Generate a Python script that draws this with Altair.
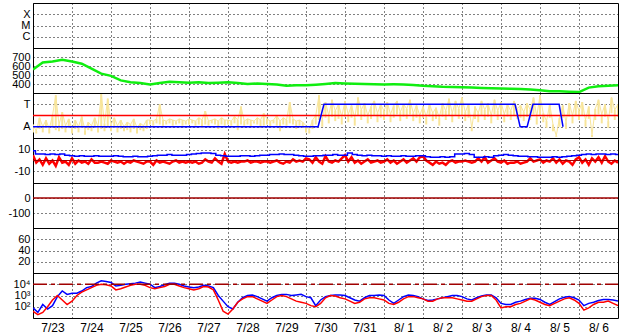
import altair as alt
import pandas as pd

# ---------------- data ----------------
day_labels = ["7/23", "7/24", "7/25", "7/26", "7/27", "7/28", "7/29", "7/30",
              "7/31", "8/ 1", "8/ 2", "8/ 3", "8/ 4", "8/ 5", "8/ 6"]
n_days = 15

status_cats = ["X", "M", "C"]

# panel 2 : green series, one value every 6 h
green_vals = [560, 640, 650, 670, 650, 625, 570, 515, 490, 440, 420, 410, 395, 410, 425, 420,
              415, 420, 410, 415, 420, 410, 400, 405, 400, 395, 380, 385, 385, 392, 400, 410,
              405, 402, 400, 398, 395, 396, 395, 390, 380, 375, 370, 368, 365, 360, 355, 352,
              350, 348, 345, 340, 330, 320, 320, 315, 310, 360, 375, 380, 385]

# panel 3 : T / A levels
ta_levels = {"A": 1, "T": 3}
ta_ref = 2
# yellow series (upper and lower reading of each 2 h interval)
yellow_hi = [
    1.2, 0.6, 1.8, 1.0, 1.6, 0.8, 2.0, 3.8, 1.2, 2.3, 1.1, 1.7,
    0.8, 1.6, 1.0, 1.9, 0.7, 1.4, 1.1, 1.8, 1.0, 3.9, 1.3, 3.5,
    1.2, 1.8, 1.1, 1.6, 1.0, 1.4, 1.2, 1.7, 0.9, 1.3, 1.1, 1.6,
    1.6, 1.5, 1.7, 3.0, 1.6, 1.5, 1.7, 1.6, 1.5, 1.7, 1.6, 1.5,
    1.7, 1.6, 1.5, 1.8, 1.6, 2.4, 1.5, 1.6, 1.7, 1.5, 1.8, 1.6,
    1.6, 1.5, 1.9, 1.6, 2.8, 1.5, 1.7, 1.6, 1.5, 1.8, 1.6, 2.2,
    1.7, 1.5, 1.6, 2.0, 1.5, 1.8, 1.6, 3.2, 1.7, 1.5, 1.6, 1.4,
    1.1, 0.7, 1.6, 2.0, 3.8, 1.6, 3.2, 2.0, 3.4, 2.4, 3.0, 1.9,
    3.3, 2.1, 2.9, 1.8, 3.6, 2.5, 3.1, 2.0, 2.8, 3.3, 2.2, 3.0,
    2.4, 3.2, 2.1, 2.9, 3.3, 2.3, 3.0, 2.6, 3.4, 2.2, 2.9, 2.0,
    2.8, 1.9, 3.0, 2.2, 2.7, 1.8, 3.1, 2.4, 3.5, 2.2, 3.3, 2.6,
    3.6, 2.3, 3.0, 0.9, 2.8, 2.2, 3.3, 2.5, 3.1, 2.0, 3.4, 2.4,
    3.2, 2.1, 3.0, 2.4, 3.3, 2.6, 2.9, 2.3, 3.1, 2.5, 3.6, 1.9,
    3.8, 2.2, 1.5, 3.0, 1.2, 0.2, 1.8, 2.9, 1.4, 3.1, 2.0, 3.3,
    2.4, 3.2, 1.6, 2.8, 0.3, 2.6, 3.4, 2.1, 3.0, 1.5, 3.6, 2.5, 3.0]
yellow_lo = [
    0.5, 0.4, 0.8, 0.5, 0.9, 0.4, 0.9, 0.7, 0.6, 0.8, 0.5, 0.9,
    0.4, 0.8, 0.5, 0.9, 0.3, 0.7, 0.6, 0.9, 0.5, 0.8, 0.6, 0.9,
    0.6, 0.9, 0.5, 0.8, 0.6, 0.7, 0.5, 0.8, 0.4, 0.7, 0.6, 0.8,
    1.2, 1.1, 1.3, 1.2, 1.1, 1.2, 1.3, 1.1, 1.2, 1.3, 1.1, 1.2,
    1.2, 1.3, 1.1, 1.2, 0.9, 1.2, 1.1, 1.3, 1.2, 0.8, 1.2, 1.1,
    1.2, 1.1, 1.3, 0.7, 1.2, 1.1, 1.2, 1.0, 1.3, 1.2, 0.9, 1.1,
    1.2, 1.0, 1.3, 1.1, 0.6, 1.2, 1.1, 1.3, 1.2, 0.8, 1.1, 0.9,
    0.5, 0.4, 0.8, 1.2, 1.6, 1.0, 1.8, 1.3, 1.9, 1.5, 1.7, 1.2,
    1.9, 1.4, 1.8, 1.1, 2.0, 1.6, 1.9, 1.3, 1.7, 2.0, 1.4, 1.8,
    1.6, 2.0, 1.4, 1.8, 2.1, 1.5, 1.9, 1.7, 2.1, 1.5, 1.8, 1.3,
    1.8, 1.2, 1.9, 1.5, 1.7, 1.1, 1.9, 1.6, 2.0, 1.4, 2.0, 1.7,
    2.0, 1.5, 1.8, 0.6, 1.7, 1.4, 2.0, 1.6, 1.9, 1.3, 2.1, 1.6,
    2.0, 1.4, 1.9, 1.6, 2.0, 1.7, 1.8, 1.5, 1.9, 1.6, 2.1, 1.2,
    2.0, 1.4, 0.9, 1.8, 0.6, 0.1, 1.0, 1.8, 0.8, 1.9, 1.3, 2.0,
    1.6, 2.0, 1.0, 1.7, 0.1, 1.6, 2.1, 1.3, 1.9, 0.9, 2.2, 1.6, 1.9]
# blue state line (day, level)
state_days = [0, 7.31, 7.46, 12.36, 12.49, 12.67, 12.82, 13.49, 13.59]
state_vals = [1, 1, 3, 3, 1, 1, 3, 3, 1]

# panel 4 : blue every 3 h, red every 2 h
p4_blue = [9, 6, 6, 5.5, 6, 5.5, 6, 5, 4.5, 4, 4.5, 4, 4, 4.5, 4, 4, 4, 4.5, 4, 3.5,
           3.5, 4, 3.5, 3.5, 4, 4.5, 5, 5, 5.5, 5, 5, 5, 5.5, 6, 6.5, 7, 7, 6.5, 5, 4.5,
           4, 4, 4, 4.5, 4.5, 4, 4.5, 5, 5, 5.5, 5.5, 6, 5.5, 5.5, 5, 4.5, 4, 4, 4.5, 4.5,
           5, 5, 5.5, 5, 5, 7, 5.5, 5, 4.5, 5, 4.5, 4.5, 4, 4.5, 4, 4, 4.5, 4, 4, 4.5,
           4.5, 3.5, 3, 3, 3.5, 3, 3.5, 6, 6, 6.5, 5.5, 3, 3, 3.5, 3, 4.5, 5, 5.5, 5, 4.5,
           4, 4, 3.5, 3.5, 3, 3, 3, 3.5, 3, 3.5, 4, 4.5, 5, 5.5, 6, 5.5, 6, 6, 5.5, 6, 5.5]
p4_red = [
    5, -2, 1, -4, 2, -3, 0, -5, 3, -2, -1, -4,
    2, -3, 0, -2, -1, -3, 1, -2, -2, -1, -2, -3,
    0, -1, -2, -1, -3, -1, -2, 0, -1, -2, -3, -1,
    -1, -4, 0, -2, -1, -2, -3, -1, 0, -2, -1, -2,
    -1, -2, -1, -3, -2, 1, -1, -2, 2, -1, -3, 6,
    -1, -2, -1, -2, -1, -1, 0, -2, -1, -1, -2, -1,
    -1, -2, -1, 0, -2, -3, -1, -2, 1, -1, 0, -1,
    2, 1, -2, 3, -1, -3, 4, -1, -2, 0, -1, 2,
    5, -1, 3, -2, 0, -3, -1, 1, -2, -1, 0, -2,
    -1, 1, -2, 0, -3, -1, 1, -2, 0, 2, -1, 3,
    4, 0, -2, -4, -1, -3, -2, -4, -1, 0, -2, -1,
    -1, 0, -1, -2, -1, 2, -1, 3, -2, 0, 2, -1,
    -2, 0, -3, -2, -2, -1, -3, -2, -1, 2, -1, 0,
    1, -2, 0, -1, 2, -2, 1, -3, 0, -1, -4, 1,
    3, -2, 1, -4, 2, -1, 3, -2, 4, -1, -3, 0, -2]

# panel 7 : log10 of values, one every 3 h
log_red = [1.6, 1.3, 1.5, 2.0, 2.6, 3.0, 2.6, 2.2, 2.5, 3.0, 3.3, 3.5, 3.7, 3.9, 4.0, 3.95,
           3.85, 3.5, 3.6, 3.75, 3.9, 4.0, 4.0, 3.9, 3.7, 3.6, 3.7, 3.8, 4.0, 4.0, 3.85, 3.7,
           3.6, 3.5, 3.6, 3.8, 3.75, 3.5, 2.6, 1.6, 1.35, 1.8, 2.4, 2.7, 2.9, 2.9, 2.7, 2.5,
           2.3, 2.6, 2.9, 3.0, 2.9, 2.7, 2.5, 2.4, 2.3, 2.1, 2.0, 2.3, 2.8, 3.0, 2.95, 2.8,
           2.7, 2.5, 2.3, 2.4, 2.7, 2.8, 2.8, 2.7, 2.6, 2.3, 2.2, 2.4, 2.7, 2.9, 2.9, 2.8,
           2.7, 2.5, 2.5, 2.7, 2.8, 2.8, 2.8, 2.7, 2.6, 2.5, 2.5, 2.7, 2.9, 3.0, 3.0, 2.6,
           1.9, 2.0, 2.0, 2.2, 2.3, 2.5, 2.7, 2.6, 2.4, 2.2, 2.1, 2.3, 2.5, 2.7, 2.8, 2.6,
           2.3, 1.7, 1.9, 2.2, 2.4, 2.4, 2.5, 2.3, 2.1]
log_blue = [1.9, 1.5, 2.2, 1.8, 2.1, 2.9, 3.4, 3.1, 3.2, 3.2, 3.4, 3.7, 3.8, 4.1, 4.3, 4.25,
            4.15, 3.85, 3.9, 4.0, 4.05, 4.1, 4.2, 4.1, 4.0, 3.7, 3.8, 3.95, 4.1, 4.1, 4.0, 3.85,
            3.75, 3.7, 3.75, 3.9, 3.85, 3.7, 3.0, 2.5, 2.0, 1.8, 2.4, 2.8, 3.0, 3.05, 2.9, 2.7,
            2.5, 2.8, 3.0, 3.1, 3.1, 3.0, 3.05, 3.1, 2.9, 2.8, 2.1, 2.6, 2.9, 3.0, 3.05, 3.05,
            3.0, 2.8, 2.6, 2.5, 2.8, 3.0, 3.0, 3.05, 3.0, 2.6, 2.3, 2.6, 2.9, 3.05, 3.0, 2.9,
            2.7, 2.55, 2.6, 2.7, 2.8, 2.9, 3.0, 3.0, 2.9, 2.7, 2.6, 2.8, 2.95, 3.05, 3.05, 2.8,
            2.3, 2.2, 2.2, 2.4, 2.5, 2.65, 2.75, 2.75, 2.65, 2.4, 2.2, 2.45, 2.7, 2.85, 2.9, 2.8,
            2.6, 2.1, 2.3, 2.4, 2.55, 2.65, 2.65, 2.6, 2.5]
log_limit = 10000
log_ticks = [100, 1000, 10000]
log_tick_labels = ["10\u00b2", "10\u00b3", "10\u2074"]

# ---------------- tables ----------------
def series(vals, step):
    return pd.DataFrame({"d": [i * step for i in range(len(vals))], "v": vals})

green_df = series(green_vals, 0.25)
yellow_df = pd.DataFrame({"d": [i / 12 for i in range(len(yellow_hi))],
                          "v": yellow_hi, "lo": yellow_lo})
state_df = pd.DataFrame({"d": state_days, "v": state_vals})
p4b_df = series(p4_blue, 0.125)
p4r_df = series(p4_red, 1 / 12)
p7r_df = pd.DataFrame({"d": [i * 0.125 for i in range(len(log_red))], "v": [10 ** e for e in log_red]})
p7b_df = pd.DataFrame({"d": [i * 0.125 for i in range(len(log_blue))], "v": [10 ** e for e in log_blue]})
cat_df = pd.DataFrame({"d": [0] * 3, "cat": status_cats, "dummy": [-1000] * 3})
ref_df = pd.DataFrame({"d0": [0], "d1": [n_days], "ta": [ta_ref], "zero": [0], "lim": [log_limit]})

W, H = 585, 45
FONT = "Liberation Sans"
GREEN, RED, BLUE, DARKRED, YELLOW = "#10ee10", "#ff0000", "#0000ff", "#a00000", "#f8e59a"

xscale = alt.Scale(domain=[0, n_days], nice=False, zero=False)
label_expr = "[" + ",".join("'%s'" % s for s in day_labels) + "][datum.value]"


def xenc(field="d", bottom=False):
    if bottom:
        ax = alt.Axis(values=list(range(n_days)), grid=True, ticks=False, domain=False,
                      labels=True, labelExpr=label_expr, labelOffset=19.5, labelPadding=4,
                      labelFontSize=12, labelFont=FONT, labelColor="black", title=None,
                      labelOverlap=False, labelBound=False, labelFlush=False)
    else:
        ax = alt.Axis(values=list(range(n_days)), grid=True, ticks=False, domain=False,
                      labels=False, title=None, minExtent=0, maxExtent=0)
    return alt.X(field + ":Q", scale=xscale, axis=ax)


def yaxis(values=None, expr=None):
    kw = dict(grid=True, ticks=False, domain=False, title=None,
              labelPadding=3, minExtent=27, maxExtent=27, labelFontSize=11,
              labelFont=FONT, labelColor="black", labelOverlap=False, labelBound=False,
              labelFlush=False)
    if values is not None:
        kw["values"] = values
    if expr:
        kw["labelExpr"] = expr
    return alt.Axis(**kw)


num_expr = "'' + datum.value"

# panel 1
p1 = alt.Chart(cat_df).mark_point(opacity=0).encode(
    x=xenc(),
    y=alt.Y("cat:N", scale=alt.Scale(type="point", domain=status_cats, padding=1),
            axis=yaxis()),
).properties(width=W, height=H)

# panel 2
p2 = alt.Chart(green_df).mark_line(color=GREEN, strokeWidth=2.5, clip=True).encode(
    x=xenc(),
    y=alt.Y("v:Q", scale=alt.Scale(domain=[300, 800], nice=False, zero=False),
            axis=yaxis([400, 500, 600, 700], num_expr)),
).properties(width=W, height=H)

# panel 3
ta_expr = "datum.value == %d ? 'T' : 'A'" % ta_levels["T"]
y3 = alt.Y("v:Q", scale=alt.Scale(domain=[0, 4], nice=False, zero=False),
           axis=yaxis([ta_levels["A"], ta_levels["T"]], ta_expr))
p3_yr = alt.Chart(yellow_df).mark_rule(color=YELLOW, strokeWidth=2, clip=True).encode(
    x=xenc(), y=y3, y2="lo:Q")
p3_y = alt.Chart(yellow_df).mark_line(color=YELLOW, strokeWidth=1, clip=True).encode(
    x=xenc(), y=y3)
p3_r = alt.Chart(ref_df).mark_rule(color=RED, strokeWidth=1.5).encode(
    x=alt.X("d0:Q", scale=xscale), x2="d1:Q", y=alt.Y("ta:Q"))
p3_b = alt.Chart(state_df).mark_line(color=BLUE, strokeWidth=1.5, clip=True).encode(
    x=xenc(), y=y3)
p3 = alt.layer(p3_yr, p3_y, p3_r, p3_b).properties(width=W, height=H)

# panel 4
y4 = alt.Y("v:Q", scale=alt.Scale(domain=[-21, 21], nice=False, zero=False),
           axis=yaxis([-10, 0, 10], num_expr))
p4_r = alt.Chart(p4r_df).mark_line(color=RED, strokeWidth=2.5, clip=True).encode(
    x=xenc(), y=y4)
p4_b = alt.Chart(p4b_df).mark_line(color=BLUE, strokeWidth=1.5, interpolate="step", clip=True).encode(
    x=xenc(), y=y4)
p4_z = alt.Chart(ref_df).mark_rule(color=DARKRED, strokeWidth=1).encode(
    x=alt.X("d0:Q", scale=xscale), x2="d1:Q", y=alt.Y("zero:Q"))
p4 = alt.layer(p4_r, p4_b, p4_z).properties(width=W, height=H)

# panel 5
p5 = alt.Chart(ref_df).mark_rule(color=DARKRED, strokeWidth=1.5).encode(
    x=xenc("d0"), x2="d1:Q",
    y=alt.Y("zero:Q", scale=alt.Scale(domain=[-200, 100], nice=False, zero=False),
            axis=yaxis([-100, 0], num_expr)),
).properties(width=W, height=H)

# panel 6
p6 = alt.Chart(cat_df).mark_point(opacity=0, clip=True).encode(
    x=xenc(),
    y=alt.Y("dummy:Q", scale=alt.Scale(domain=[0, 80], nice=False, zero=False),
            axis=yaxis([20, 40, 60], num_expr)),
).properties(width=W, height=H)

# panel 7
log_expr = "{" + ",".join("'%d':'%s'" % (v, s) for v, s in zip(log_ticks, log_tick_labels)) + "}[''+datum.value]"
y7 = alt.Y("v:Q", scale=alt.Scale(type="log", domain=[10, 100000], nice=False),
           axis=yaxis(log_ticks, log_expr))
p7_r = alt.Chart(p7r_df).mark_line(color=RED, strokeWidth=1.5, clip=True).encode(
    x=xenc(bottom=True), y=y7)
p7_b = alt.Chart(p7b_df).mark_line(color=BLUE, strokeWidth=1.5, clip=True).encode(
    x=xenc(bottom=True), y=y7)
p7_l = alt.Chart(ref_df).mark_rule(color=DARKRED, strokeWidth=1.5, strokeDash=[14, 4, 4, 4]).encode(
    x=alt.X("d0:Q", scale=xscale), x2="d1:Q", y=alt.Y("lim:Q"))
p7 = alt.layer(p7_b, p7_r, p7_l).properties(width=W, height=H)

chart = alt.vconcat(p1, p2, p3, p4, p5, p6, p7, spacing=0, bounds="flush").properties(
    padding={"left": 5, "top": 2, "right": 5, "bottom": 0},
    background="white",
).configure_view(stroke="black", strokeWidth=1).configure_axis(
    gridColor="black", gridDash=[1, 3], gridWidth=1, gridOpacity=1,
).configure_concat(spacing=0)

chart.save("out.html", embed_options={"renderer": "svg", "actions": False})
